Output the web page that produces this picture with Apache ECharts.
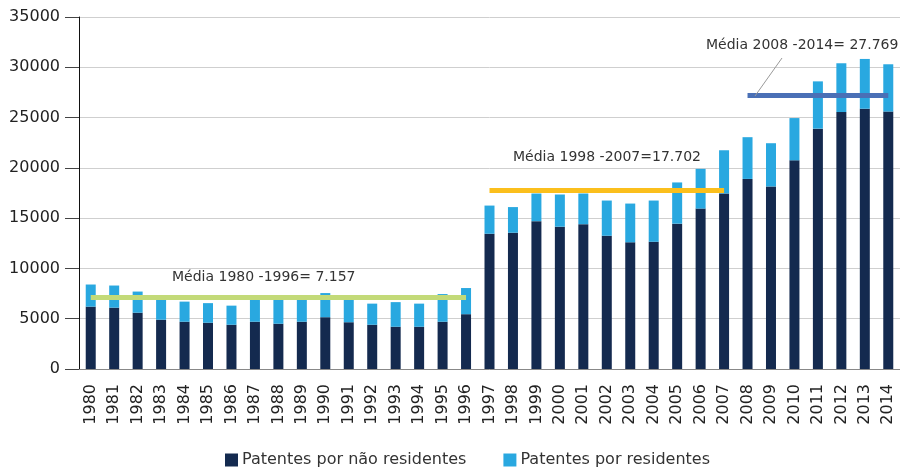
<!DOCTYPE html>
<html>
<head>
	<meta charset="utf-8" />
	<title>Patentes - residentes e não residentes</title>
	<script src="https://cdn.jsdelivr.net/npm/echarts@6/dist/echarts.min.js"></script>
</head>
<body style="margin:0;">
	<!-- container -->
	<div id="main" style="width: 900px;height: 469px;"></div>
	<script type="text/javascript">

		// dados
		var anos = ['1980','1981','1982','1983','1984','1985','1986','1987','1988','1989','1990','1991','1992','1993','1994','1995','1996',
			'1997','1998','1999','2000','2001','2002','2003','2004','2005','2006','2007',
			'2008','2009','2010','2011','2012','2013','2014'];
		var naoResidentes = [6200,6100,5600,4900,4700,4600,4400,4700,4500,4700,5150,4650,4400,4200,4200,4700,5450,
			13450,13550,14700,14150,14400,13250,12600,12650,14450,15950,17450,
			18900,18150,20750,23900,25550,25880,25600];
		var residentes = [2200,2200,2100,2150,2000,1950,1900,2350,2450,2350,2400,2400,2100,2450,2300,2750,2600,
			2800,2550,2750,3200,3050,3500,3850,4100,4100,3950,4300,
			4150,4300,4200,4700,4850,4950,4700];

		// médias por período
		var mediaInicio = ['1980','1997','2008'];
		var mediaFim = ['1996','2007','2014'];
		var mediaValor = [7150,17750,27220];
		var mediaCor = ['#c3da78','#fbbf1c','#4a70b6'];
		var mediaTexto = ['Média 1980 -1996= 7.157','Média 1998 -2007=17.702','Média 2008 -2014= 27.769'];

		var fonte = '"DejaVu Sans", sans-serif';

		var linhasMedia = [];
		for (var i = 0; i < mediaValor.length; i++) {
			linhasMedia.push([
				{coord: [mediaInicio[i], mediaValor[i]], lineStyle: {color: mediaCor[i], width: 5, type: 'solid'}},
				{coord: [mediaFim[i], mediaValor[i]]}
			]);
		}

		var myChart = echarts.init(document.getElementById("main"));

		var option = {
			animation: false,
			textStyle: {fontFamily: fonte},
			grid: {left: 79, top: 17, width: 825, height: 352},
			legend: {
				left: 225,
				top: 452,
				padding: 0,
				icon: 'rect',
				itemWidth: 13,
				itemHeight: 13,
				itemGap: 37,
				textStyle: {fontSize: 16, color: '#333', fontFamily: fonte, padding: [0, 0, 0, -1]},
				data: ['Patentes por não residentes', 'Patentes por residentes']
			},
			xAxis: {
				type: 'category',
				data: anos,
				axisLine: {lineStyle: {color: '#888', width: 1}},
				axisTick: {length: 14, lineStyle: {color: '#555'}},
				axisLabel: {rotate: 90, margin: 15, fontSize: 16, color: '#222', fontFamily: fonte}
			},
			yAxis: {
				type: 'value',
				min: 0,
				max: 35000,
				interval: 5000,
				axisLine: {show: true, lineStyle: {color: '#111', width: 1}},
				axisTick: {show: true, length: 14, lineStyle: {color: '#444'}},
				axisLabel: {
					margin: 19, fontSize: 16, color: '#222', fontFamily: fonte,
					formatter: function (v) { return String(v); }
				},
				splitLine: {lineStyle: {color: '#cfcfcf'}}
			},
			graphic: [
				{type: 'text', x: 172, y: 277, z: 100, style: {text: mediaTexto[0], fill: '#333', font: '14px ' + fonte, verticalAlign: 'middle'}},
				{type: 'text', x: 513, y: 157, z: 100, style: {text: mediaTexto[1], fill: '#333', font: '14px ' + fonte, verticalAlign: 'middle'}},
				{type: 'text', x: 706, y: 45, z: 100, style: {text: mediaTexto[2], fill: '#333', font: '14px ' + fonte, verticalAlign: 'middle'}},
				{type: 'line', z: 100, shape: {x1: 755, y1: 96, x2: 782, y2: 58}, style: {stroke: '#999', lineWidth: 1}}
			],
			series: [
				{
					name: 'Patentes por não residentes',
					type: 'bar',
					stack: 'total',
					barWidth: 10,
					itemStyle: {color: '#142a4f'},
					data: naoResidentes
				},
				{
					name: 'Patentes por residentes',
					type: 'bar',
					stack: 'total',
					barWidth: 10,
					itemStyle: {color: '#29a8e0'},
					data: residentes,
					markLine: {
						silent: true,
						symbol: ['none', 'none'],
						label: {show: false},
						data: linhasMedia
					}
				}
			]
		};

		myChart.setOption(option);

	</script>
</body>
</html>
